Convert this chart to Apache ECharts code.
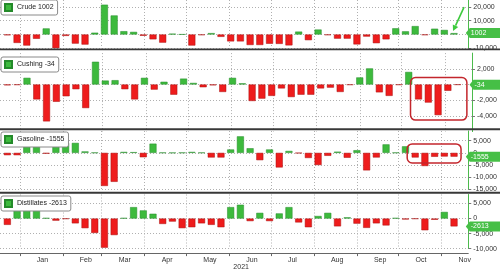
<!DOCTYPE html>
<html><head><meta charset="utf-8">
<script src="https://cdn.jsdelivr.net/npm/echarts@6/dist/echarts.min.js"></script>
<style>html,body{margin:0;padding:0;background:#fff}#c{width:500px;height:272px}</style>
</head><body><div id="c"></div>
<script>
// weekly report dates
const dates = ['2020-12-23','2020-12-30','2021-01-06','2021-01-13','2021-01-20','2021-01-27','2021-02-03','2021-02-10','2021-02-17','2021-02-24',
'2021-03-03','2021-03-10','2021-03-17','2021-03-24','2021-03-31','2021-04-07','2021-04-14','2021-04-21','2021-04-28','2021-05-05',
'2021-05-12','2021-05-19','2021-05-26','2021-06-02','2021-06-09','2021-06-16','2021-06-23','2021-06-30','2021-07-07','2021-07-14',
'2021-07-21','2021-07-28','2021-08-04','2021-08-11','2021-08-18','2021-08-25','2021-09-01','2021-09-08','2021-09-15','2021-09-22',
'2021-09-29','2021-10-06','2021-10-13','2021-10-20','2021-10-27','2021-11-03','2021-11-10'];
const crude = [-560,-6100,-8000,-3100,4400,-9900,-1000,-6600,-7300,1300,21600,13800,2400,1900,-900,-3500,-5900,600,100,-8000,
-400,1000,-1700,-5000,-5000,-7600,-7600,-6700,-6800,-7900,2100,-4100,3600,-400,-3000,-3000,-7200,-1500,-6300,-3500,
4500,2300,6100,-400,4200,3300,1002];
const cushing = [-100,-50,850,-1900,-4700,-2200,-1500,-600,-3000,2900,500,550,-600,-1900,850,-650,350,-1300,750,200,
-350,-100,-950,850,150,-2100,-1800,-1450,-500,-1600,-1300,-1300,-500,-400,-950,-50,900,2050,-1000,-1450,
-50,1600,-1900,-2300,-3900,-800,-34];
const gasoline = [-950,-950,2700,2700,-300,2700,4100,4100,600,100,-13600,-11900,400,300,-1800,3800,100,50,100,400,
100,-1900,-1900,1400,6800,1900,-3000,1400,-6000,800,-100,-2100,-5000,-1200,500,-2000,1100,-7200,-1900,3500,
100,2700,-1900,-5400,-1600,-1500,-1555];
const distillates = [-2100,3000,3100,3100,200,-700,-100,-1600,-3200,-4800,-9700,-5500,200,3800,2700,1600,-1800,-1000,-3200,-2900,
-1600,-2100,-2900,3800,4600,-850,1900,-850,1700,3800,-1300,-2900,850,1900,-2600,400,-1700,-3100,-1600,-2300,
200,-300,-100,-3900,-400,2200,-2613];
const seriesNames = ['Crude','Cushing','Gasoline','Distillates'];
const yearLabel = '2021';

const FONT = 'Liberation Sans, Arial, sans-serif';
const RED = '#ee1c1c', RED_B = '#a80e0e', GREEN = '#3dba3d', GREEN_B = '#248a2a', TAG = '#46bf46';
const ts = dates.map(d => Date.parse(d + 'T00:00:00Z'));
const xMin = Date.parse('2020-12-20T05:00:00Z'), xMax = Date.parse('2021-11-17T18:00:00Z');
const DAY = 864e5;

const panels = [
  {name: seriesNames[0], data: crude, top: 0, height: 48.3, min: -10000, max: 25000, interval: 10000, legendTop: 0, minLabel: true, minLine: true},
  {name: seriesNames[1], data: cushing, top: 53.1, height: 78.5, min: -6000, max: 4000, interval: 2000, legendTop: 57, minLabel: false, minLine: false},
  {name: seriesNames[2], data: gasoline, top: 131, height: 58.35, min: -15000, max: 9000, interval: 5000, legendTop: 132, minLabel: true, minLine: true},
  {name: seriesNames[3], data: distillates, top: 194.5, height: 56.2, min: -10000, max: 8000, interval: 5000, legendTop: 196, minLabel: true, minLine: true}
];
const last = a => a[a.length - 1];
const dotted = {color: '#b0b0b0', type: [1, 2], width: 1};

const chart = echarts.init(document.getElementById('c'), null, {renderer: 'canvas'});
const option = {
  animation: false,
  useUTC: true,
  textStyle: {fontFamily: FONT},
  grid: panels.map(p => ({left: 0, right: 28, top: p.top, height: p.height})),
  legend: panels.map(p => ({
    data: [p.name], left: 1, top: p.legendTop, selectedMode: false,
    icon: 'rect', itemWidth: 7, itemHeight: 7, itemGap: 3,
    backgroundColor: '#fff', borderColor: '#8a8a8a', borderWidth: 1, borderRadius: 2, padding: [3, 4, 3, 3],
    formatter: name => name + ' ' + last(p.data),
    textStyle: {fontSize: 7, color: '#222', fontFamily: FONT}
  })),
  xAxis: panels.map((p, i) => ({
    type: 'time', gridIndex: i, min: xMin, max: xMax, splitNumber: 11,
    minInterval: 28 * DAY, maxInterval: 31 * DAY,
    offset: i === 3 ? 4.5 : 0,
    axisLine: {show: i === 3, onZero: false, lineStyle: {color: '#666', width: 1}},
    axisTick: {show: i === 3, length: 3, lineStyle: {color: '#666'}},
    axisLabel: i === 3 ? {show: true, formatter: '{MMM}', interval: 0, align: 'left', padding: [0, 0, 0, 17],
      margin: 3, fontSize: 7, color: '#333', fontFamily: FONT, showMinLabel: false, showMaxLabel: false, hideOverlap: false} : {show: false},
    splitLine: {show: true, showMinLine: false, showMaxLine: false, lineStyle: dotted},
    name: i === 3 ? yearLabel : '', nameLocation: 'middle', nameGap: 10,
    nameTextStyle: {fontSize: 7, color: '#333', fontFamily: FONT, padding: [0, 0, 0, 14]}
  })),
  yAxis: panels.map((p, i) => ({
    type: 'value', gridIndex: i, position: 'right', min: p.min, max: p.max, interval: p.interval,
    axisLine: {show: true, lineStyle: {color: '#4cbb4c', width: 1}},
    axisTick: {show: true, length: 3, lineStyle: {color: '#777'}},
    axisLabel: {show: true, margin: 5, fontSize: 7, color: '#333', fontFamily: FONT, showMaxLabel: false, showMinLabel: p.minLabel},
    splitLine: {show: true, showMaxLine: false, showMinLine: p.minLine, lineStyle: dotted}
  })),
  series: panels.map((p, i) => ({
    name: p.name, type: 'bar', xAxisIndex: i, yAxisIndex: i, barWidth: 7, color: GREEN,
    itemStyle: {color: GREEN, borderColor: GREEN_B, borderWidth: 0.5},
    data: p.data.map((v, k) => ({value: [ts[k], v], itemStyle: v < 0 ? {color: RED, borderColor: RED_B} : {color: GREEN, borderColor: GREEN_B}}))
  }))
};
chart.setOption(option);

// annotations positioned from data coordinates
const P = (g, k, v) => chart.convertToPixel({xAxisIndex: g, yAxisIndex: g}, [ts[k], v]);
const n = dates.length - 1;
const c0 = P(1, n - 4, 0), c1 = P(1, n - 1, 0), cLow = P(1, n - 2, cushing[n - 2]);
const g0 = P(2, n - 4, 0), g1 = P(2, n, 0);
const tip = P(0, n, crude[n]);
const tx = tip[0] - 1, ty = tip[1] - 2, sx = tip[0] + 10, sy = tip[1] - 26;
const dx = tx - sx, dy = ty - sy, L = Math.hypot(dx, dy), ux = dx / L, uy = dy / L;
const hx = tx - ux * 6, hy = ty - uy * 6;
const sepStyle = {fill: '#383838'};
const gfx = [
  {type: 'rect', z: 100, shape: {x: 0, y: 48.4, width: 500, height: 1.9}, style: sepStyle},
  {type: 'rect', z: 100, shape: {x: 0, y: 128.3, width: 500, height: 1.9}, style: sepStyle},
  {type: 'rect', z: 100, shape: {x: 0, y: 191.8, width: 500, height: 1.9}, style: sepStyle},
  {type: 'rect', z: 90, shape: {x: c0[0] - 8, y: c0[1] - 7, width: (c1[0] + 19) - (c0[0] - 8), height: (cLow[1] + 5) - (c0[1] - 7), r: 5},
    style: {fill: 'none', stroke: '#c3262c', lineWidth: 1.5}},
  {type: 'rect', z: 90, shape: {x: g0[0] - 8, y: g0[1] - 9, width: (g1[0] + 7) - (g0[0] - 8), height: 19, r: 5},
    style: {fill: 'none', stroke: '#c3262c', lineWidth: 1.5}},
  {type: 'line', z: 95, shape: {x1: sx, y1: sy, x2: hx, y2: hy}, style: {stroke: '#3dca3d', lineWidth: 1.6}},
  {type: 'polygon', z: 95, shape: {points: [[tx, ty], [hx - uy * 3, hy + ux * 3], [hx + uy * 3, hy - ux * 3]]}, style: {fill: '#3dca3d'}}
];
// last-value tags (pentagon pointing at the axis) placed from each panel's last value
panels.forEach((p, i) => {
  const y = chart.convertToPixel({yAxisIndex: i}, last(p.data));
  const x = chart.convertToPixel({xAxisIndex: i}, xMax);
  gfx.push({type: 'polygon', z: 110, shape: {points: [[x + 1, y], [x + 5, y - 5], [500, y - 5], [500, y + 5], [x + 5, y + 5]]}, style: {fill: TAG}});
  gfx.push({type: 'text', z: 111, x: x + 6, y: y, style: {text: String(last(p.data)), fill: '#fff', font: '7px ' + FONT, verticalAlign: 'middle', align: 'left'}});
});
chart.setOption({graphic: gfx});
</script>
</body></html>
